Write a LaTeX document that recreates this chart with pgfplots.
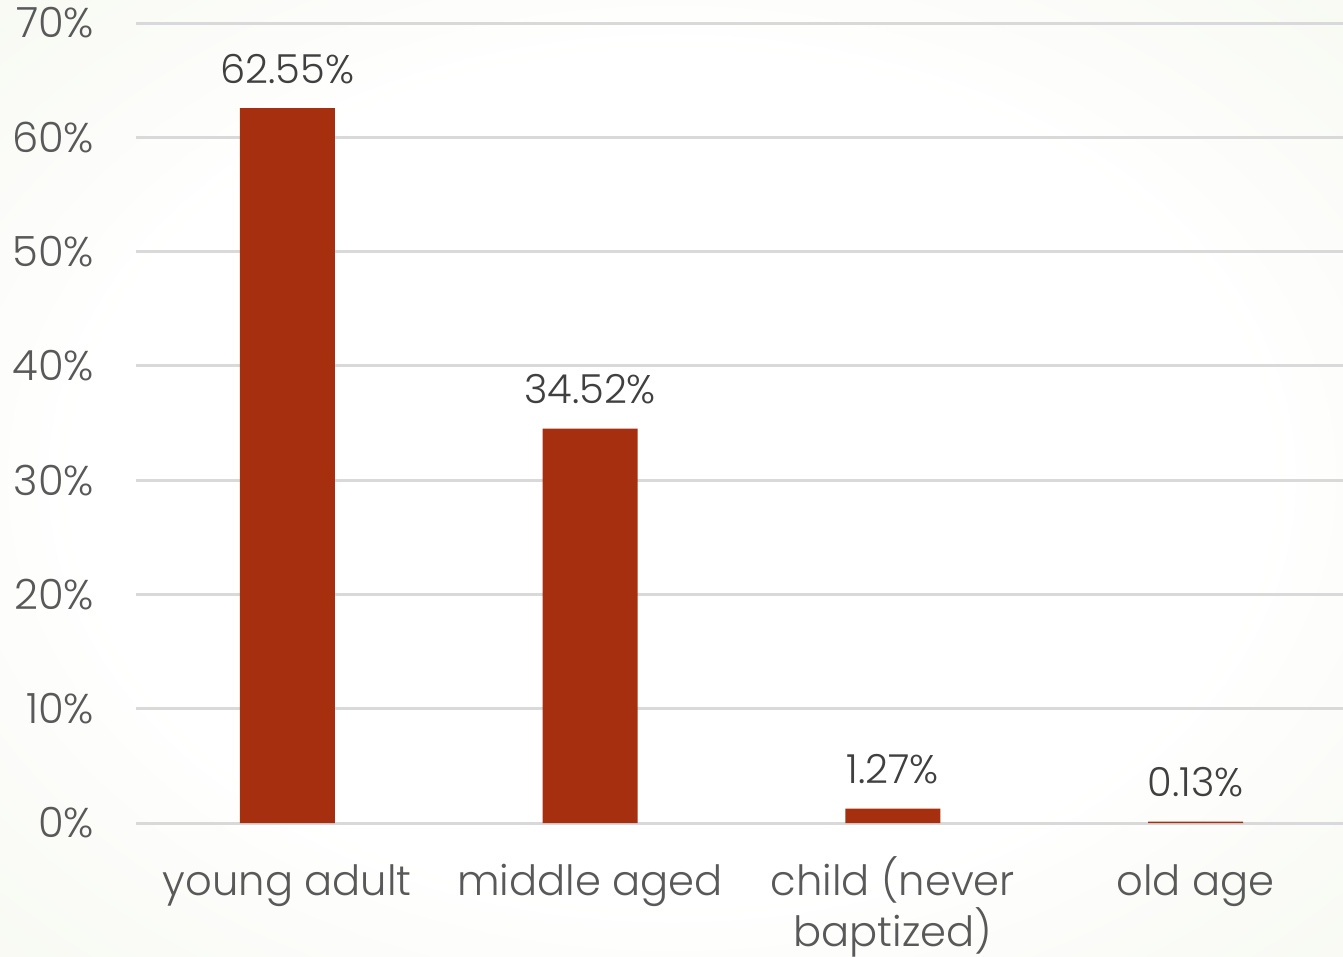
\documentclass[border=0pt]{standalone}
\usepackage{pgfplots}
\pgfplotsset{compat=1.18}
\usepackage{fontspec}
\setmainfont{Poppins}[UprightFont=* Light]
\definecolor{barred}{RGB}{165,47,14}
\definecolor{bgg}{RGB}{228,235,210}
\definecolor{tickgray}{RGB}{89,89,89}
\definecolor{labgray}{RGB}{64,64,64}
\definecolor{gridgray}{RGB}{217,217,217}
\pgfdeclareradialshading{bg}{\pgfpoint{0bp}{0bp}}{color(0bp)=(white); color(22bp)=(white); color(71bp)=(bgg)}
\begin{document}
\begin{tikzpicture}
\path[use as bounding box] (-40.8pt,-39.9pt) rectangle (362.1pt,246.9pt);
\shade[shading=bg] (-40.8pt,-39.9pt) rectangle (362.1pt,246.9pt);
\begin{axis}[
  at={(0pt,0pt)}, anchor=south west,
  scale only axis, width=362.1pt, height=240pt,
  xmin=-0.5, xmax=3.487, ymin=0, ymax=70,
  axis line style={draw=none},
  major tick length=0pt,
  ymajorgrids, grid style={gridgray, line width=0.9pt},
  ytick={0,10,20,30,40,50,60,70},
  yticklabels={0\%,10\%,20\%,30\%,40\%,50\%,60\%,70\%},
  yticklabel style={font=\fontsize{12.5}{15}\selectfont, text=tickgray, xshift=-9pt},
  xtick={0,1,2,3},
  xticklabels={young adult, middle aged, {\begin{tabular}[t]{@{}c@{}}child (never\\baptized)\end{tabular}}, old age},
  xticklabel style={font=\fontsize{12.5}{12.6}\selectfont, text=tickgray, anchor=base, yshift=-21.6pt},
  ybar, bar width=28.5pt, bar shift=0pt,
  nodes near coords={\pgfmathprintnumber[fixed,precision=2,fixed zerofill]{\pgfplotspointmeta}\%},
  nodes near coords style={font=\fontsize{12}{14}\selectfont, text=labgray, anchor=base, yshift=7.5pt, /pgf/number format/assume math mode=true},
  clip=false,
]
\addplot[fill=barred, draw=none] coordinates {(0,62.55) (1,34.52) (2,1.27) (3,0.13)};
\end{axis}
\end{tikzpicture}
\end{document}
